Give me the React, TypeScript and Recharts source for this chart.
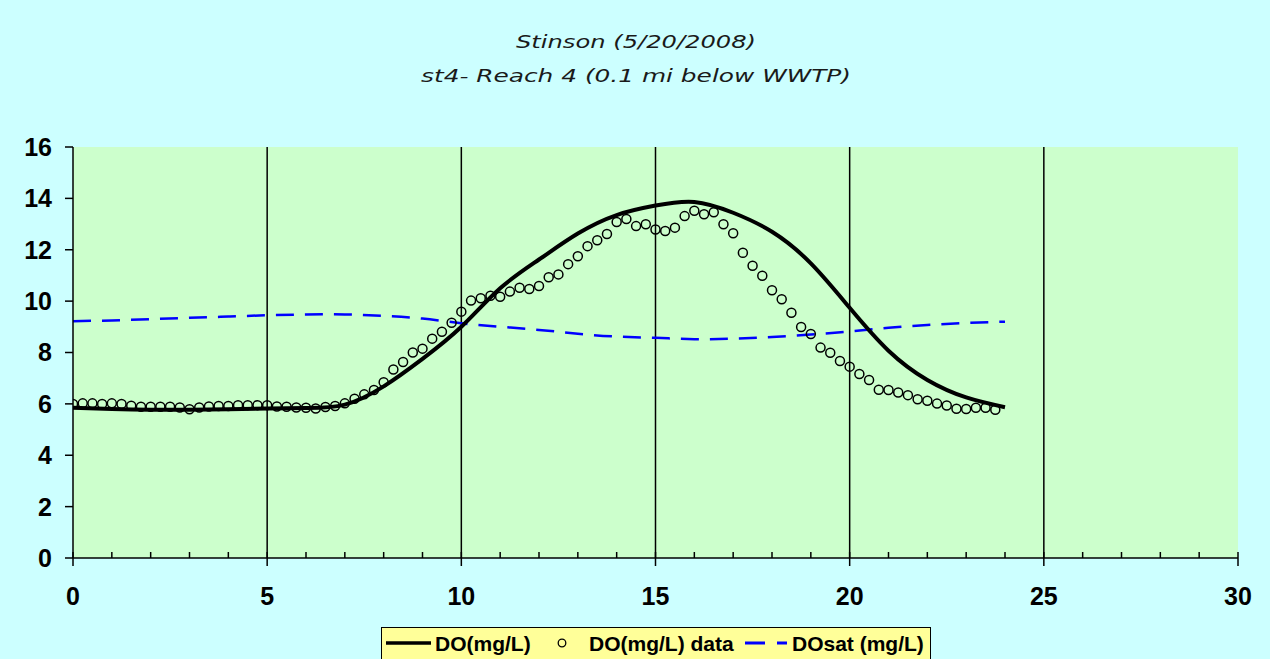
import React from "react";
import {
  ComposedChart,
  Line,
  XAxis,
  YAxis,
  CartesianGrid,
  ReferenceLine,
} from "recharts";

// model output, hourly
const modelHours = [0, 1, 2, 3, 4, 5, 6, 7, 8, 9, 10, 11, 12, 13, 14, 15, 16, 17, 18, 19, 20, 21, 22, 23, 24];
const modelDO = [
  5.85, 5.8, 5.77, 5.77, 5.79, 5.82, 5.84, 5.97, 6.68, 7.75, 9.0, 10.5, 11.62,
  12.63, 13.35, 13.72, 13.86, 13.44, 12.7, 11.47, 9.74, 8.07, 6.93, 6.25, 5.87,
];
const doSat = [
  9.22, 9.25, 9.3, 9.35, 9.4, 9.45, 9.48, 9.48, 9.43, 9.32, 9.14, 9.0, 8.88,
  8.73, 8.62, 8.57, 8.52, 8.54, 8.6, 8.7, 8.82, 8.96, 9.07, 9.15, 9.2,
];

// measured, every 15 min
const obsTimes = [
  0, 0.25, 0.5, 0.75, 1, 1.25, 1.5, 1.75,
  2, 2.25, 2.5, 2.75, 3, 3.25, 3.5, 3.75,
  4, 4.25, 4.5, 4.75, 5, 5.25, 5.5, 5.75,
  6, 6.25, 6.5, 6.75, 7, 7.25, 7.5, 7.75,
  8, 8.25, 8.5, 8.75, 9, 9.25, 9.5, 9.75,
  10, 10.25, 10.5, 10.75, 11, 11.25, 11.5, 11.75,
  12, 12.25, 12.5, 12.75, 13, 13.25, 13.5, 13.75,
  14, 14.25, 14.5, 14.75, 15, 15.25, 15.5, 15.75,
  16, 16.25, 16.5, 16.75, 17, 17.25, 17.5, 17.75,
  18, 18.25, 18.5, 18.75, 19, 19.25, 19.5, 19.75,
  20, 20.25, 20.5, 20.75, 21, 21.25, 21.5, 21.75,
  22, 22.25, 22.5, 22.75, 23, 23.25, 23.5, 23.75,
];
const obsDO = [
  6.0, 6.02, 6.02, 6.0, 6.02, 6.0, 5.93, 5.89,
  5.89, 5.89, 5.89, 5.86, 5.79, 5.86, 5.9, 5.92,
  5.92, 5.95, 5.95, 5.95, 5.95, 5.9, 5.89, 5.86,
  5.85, 5.82, 5.88, 5.92, 6.02, 6.2, 6.37, 6.54,
  6.84, 7.34, 7.63, 8.0, 8.15, 8.54, 8.81, 9.16,
  9.59, 10.02, 10.11, 10.21, 10.17, 10.37, 10.52, 10.47,
  10.59, 10.93, 11.04, 11.44, 11.75, 12.14, 12.37, 12.61,
  13.08, 13.2, 12.92, 12.99, 12.79, 12.73, 12.86, 13.31,
  13.52, 13.38, 13.46, 12.99, 12.64, 11.88, 11.38, 10.99,
  10.42, 10.07, 9.55, 8.99, 8.72, 8.19, 7.99, 7.67,
  7.45, 7.16, 6.93, 6.55, 6.54, 6.44, 6.34, 6.18,
  6.12, 6.01, 5.94, 5.81, 5.8, 5.85, 5.85, 5.77,
];

const xTicks = [0, 1, 2, 3, 4, 5, 6, 7, 8, 9, 10, 11, 12, 13, 14, 15, 16, 17, 18, 19, 20, 21, 22, 23, 24, 25, 26, 27, 28, 29, 30];
const xMajor = [0, 5, 10, 15, 20, 25, 30];
const xGrid = [5, 10, 15, 20, 25];
const yTicks = [0, 2, 4, 6, 8, 10, 12, 14, 16];

const modelData = modelHours.map((t, i) => ({ t, v: modelDO[i] }));
const satData = modelHours.map((t, i) => ({ t, v: doSat[i] }));
const obsData = obsTimes.map((t, i) => ({ t, v: obsDO[i] }));

const labelFont = "'Liberation Sans', Arial, sans-serif";

function XTick(props: any) {
  const { x, y, payload } = props;
  const major = xMajor.includes(payload.value);
  if (!major) {
    return <line x1={x} x2={x} y1={y} y2={y - 6} stroke="#000" strokeWidth={1.5} />;
  }
  return (
    <g>
      <line x1={x} x2={x} y1={y - 6} y2={y + 8} stroke="#000" strokeWidth={1.5} />
      <text
        x={x}
        y={y + 47}
        textAnchor="middle"
        fontFamily={labelFont}
        fontWeight="bold"
        fontSize={25}
        fill="#000"
      >
        {payload.value}
      </text>
    </g>
  );
}

export default function App() {
  return (
    <div
      style={{
        position: "absolute",
        left: 0,
        top: 0,
        width: 1270,
        height: 659,
        background: "#CCFFFF",
        overflow: "hidden",
      }}
    >
      <svg width={1270} height={100} style={{ position: "absolute", left: 0, top: 0 }}>
        <text
          x={636}
          y={48}
          textAnchor="middle"
          fontFamily="'DejaVu Sans', Verdana, sans-serif"
          fontStyle="italic"
          fontSize={18.5}
          fill="#1a1a1a"
          textLength={240}
          lengthAdjust="spacingAndGlyphs"
        >
          Stinson (5/20/2008)
        </text>
        <text
          x={636}
          y={82}
          textAnchor="middle"
          fontFamily="'DejaVu Sans', Verdana, sans-serif"
          fontStyle="italic"
          fontSize={18.5}
          fill="#1a1a1a"
          textLength={430}
          lengthAdjust="spacingAndGlyphs"
        >
          st4- Reach 4 (0.1 mi below WWTP)
        </text>
      </svg>

      <ComposedChart
        width={1270}
        height={659}
        margin={{ top: 147, right: 32, bottom: 61, left: 13 }}
        style={{ position: "absolute", left: 0, top: 0 }}
      >
        <CartesianGrid fill="#CCFFCC" horizontal={false} vertical={false} stroke="none" />
        <XAxis
          dataKey="t"
          type="number"
          domain={[0, 30]}
          ticks={xTicks}
          interval={0}
          height={40}
          tickLine={false}
          tickSize={0}
          tickMargin={0}
          tick={<XTick />}
          axisLine={{ stroke: "#000", strokeWidth: 1.5 }}
          allowDataOverflow
        />
        <XAxis
          xAxisId="top"
          orientation="top"
          type="number"
          domain={[0, 30]}
          height={0}
          tick={false}
          tickLine={false}
          axisLine={{ stroke: "#808080", strokeWidth: 2 }}
        />
        <YAxis
          type="number"
          domain={[0, 16]}
          ticks={yTicks}
          interval={0}
          width={60}
          tickSize={8}
          tickMargin={13}
          tickLine={{ stroke: "#000", strokeWidth: 1.5 }}
          axisLine={{ stroke: "#000", strokeWidth: 1.5 }}
          tick={{ fontFamily: labelFont, fontWeight: "bold", fontSize: 25, fill: "#000" }}
          allowDataOverflow
        />
        <YAxis
          yAxisId="r"
          orientation="right"
          type="number"
          domain={[0, 16]}
          width={0}
          tick={false}
          tickLine={false}
          axisLine={{ stroke: "#808080", strokeWidth: 2 }}
        />
        {xGrid.map((g) => (
          <ReferenceLine key={g} x={g} stroke="#000" strokeWidth={1.5} />
        ))}
        <Line
          data={satData}
          dataKey="v"
          type="natural"
          stroke="#0000FF"
          strokeWidth={2.5}
          strokeDasharray="18 11"
          dot={false}
          isAnimationActive={false}
        />
        <Line
          data={modelData}
          dataKey="v"
          type="natural"
          stroke="#000"
          strokeWidth={4}
          dot={false}
          isAnimationActive={false}
        />
        <Line
          data={obsData}
          dataKey="v"
          stroke="none"
          dot={{ r: 4.5, stroke: "#000", strokeWidth: 1.5, fill: "none" }}
          isAnimationActive={false}
        />
      </ComposedChart>

      <div
        style={{
          position: "absolute",
          left: 381,
          top: 627,
          width: 550,
          height: 34,
          boxSizing: "border-box",
          background: "#FFFF99",
          border: "1.5px solid #000",
        }}
      >
        <svg width={550} height={34} style={{ position: "absolute", left: -1.5, top: -1.5 }}>
          <line x1={5} x2={50} y1={16} y2={16} stroke="#000" strokeWidth={3.5} />
          <text x={54} y={24} fontFamily={labelFont} fontWeight="bold" fontSize={21}>DO(mg/L)</text>
          <circle cx={181} cy={16} r={3.8} fill="none" stroke="#000" strokeWidth={1.3} />
          <text x={208} y={24} fontFamily={labelFont} fontWeight="bold" fontSize={21}>DO(mg/L) data</text>
          <line x1={364} x2={406} y1={16} y2={16} stroke="#0000FF" strokeWidth={3} strokeDasharray="20 12 10 50" />
          <text x={411} y={24} fontFamily={labelFont} fontWeight="bold" fontSize={21}>DOsat (mg/L)</text>
        </svg>
      </div>
    </div>
  );
}
